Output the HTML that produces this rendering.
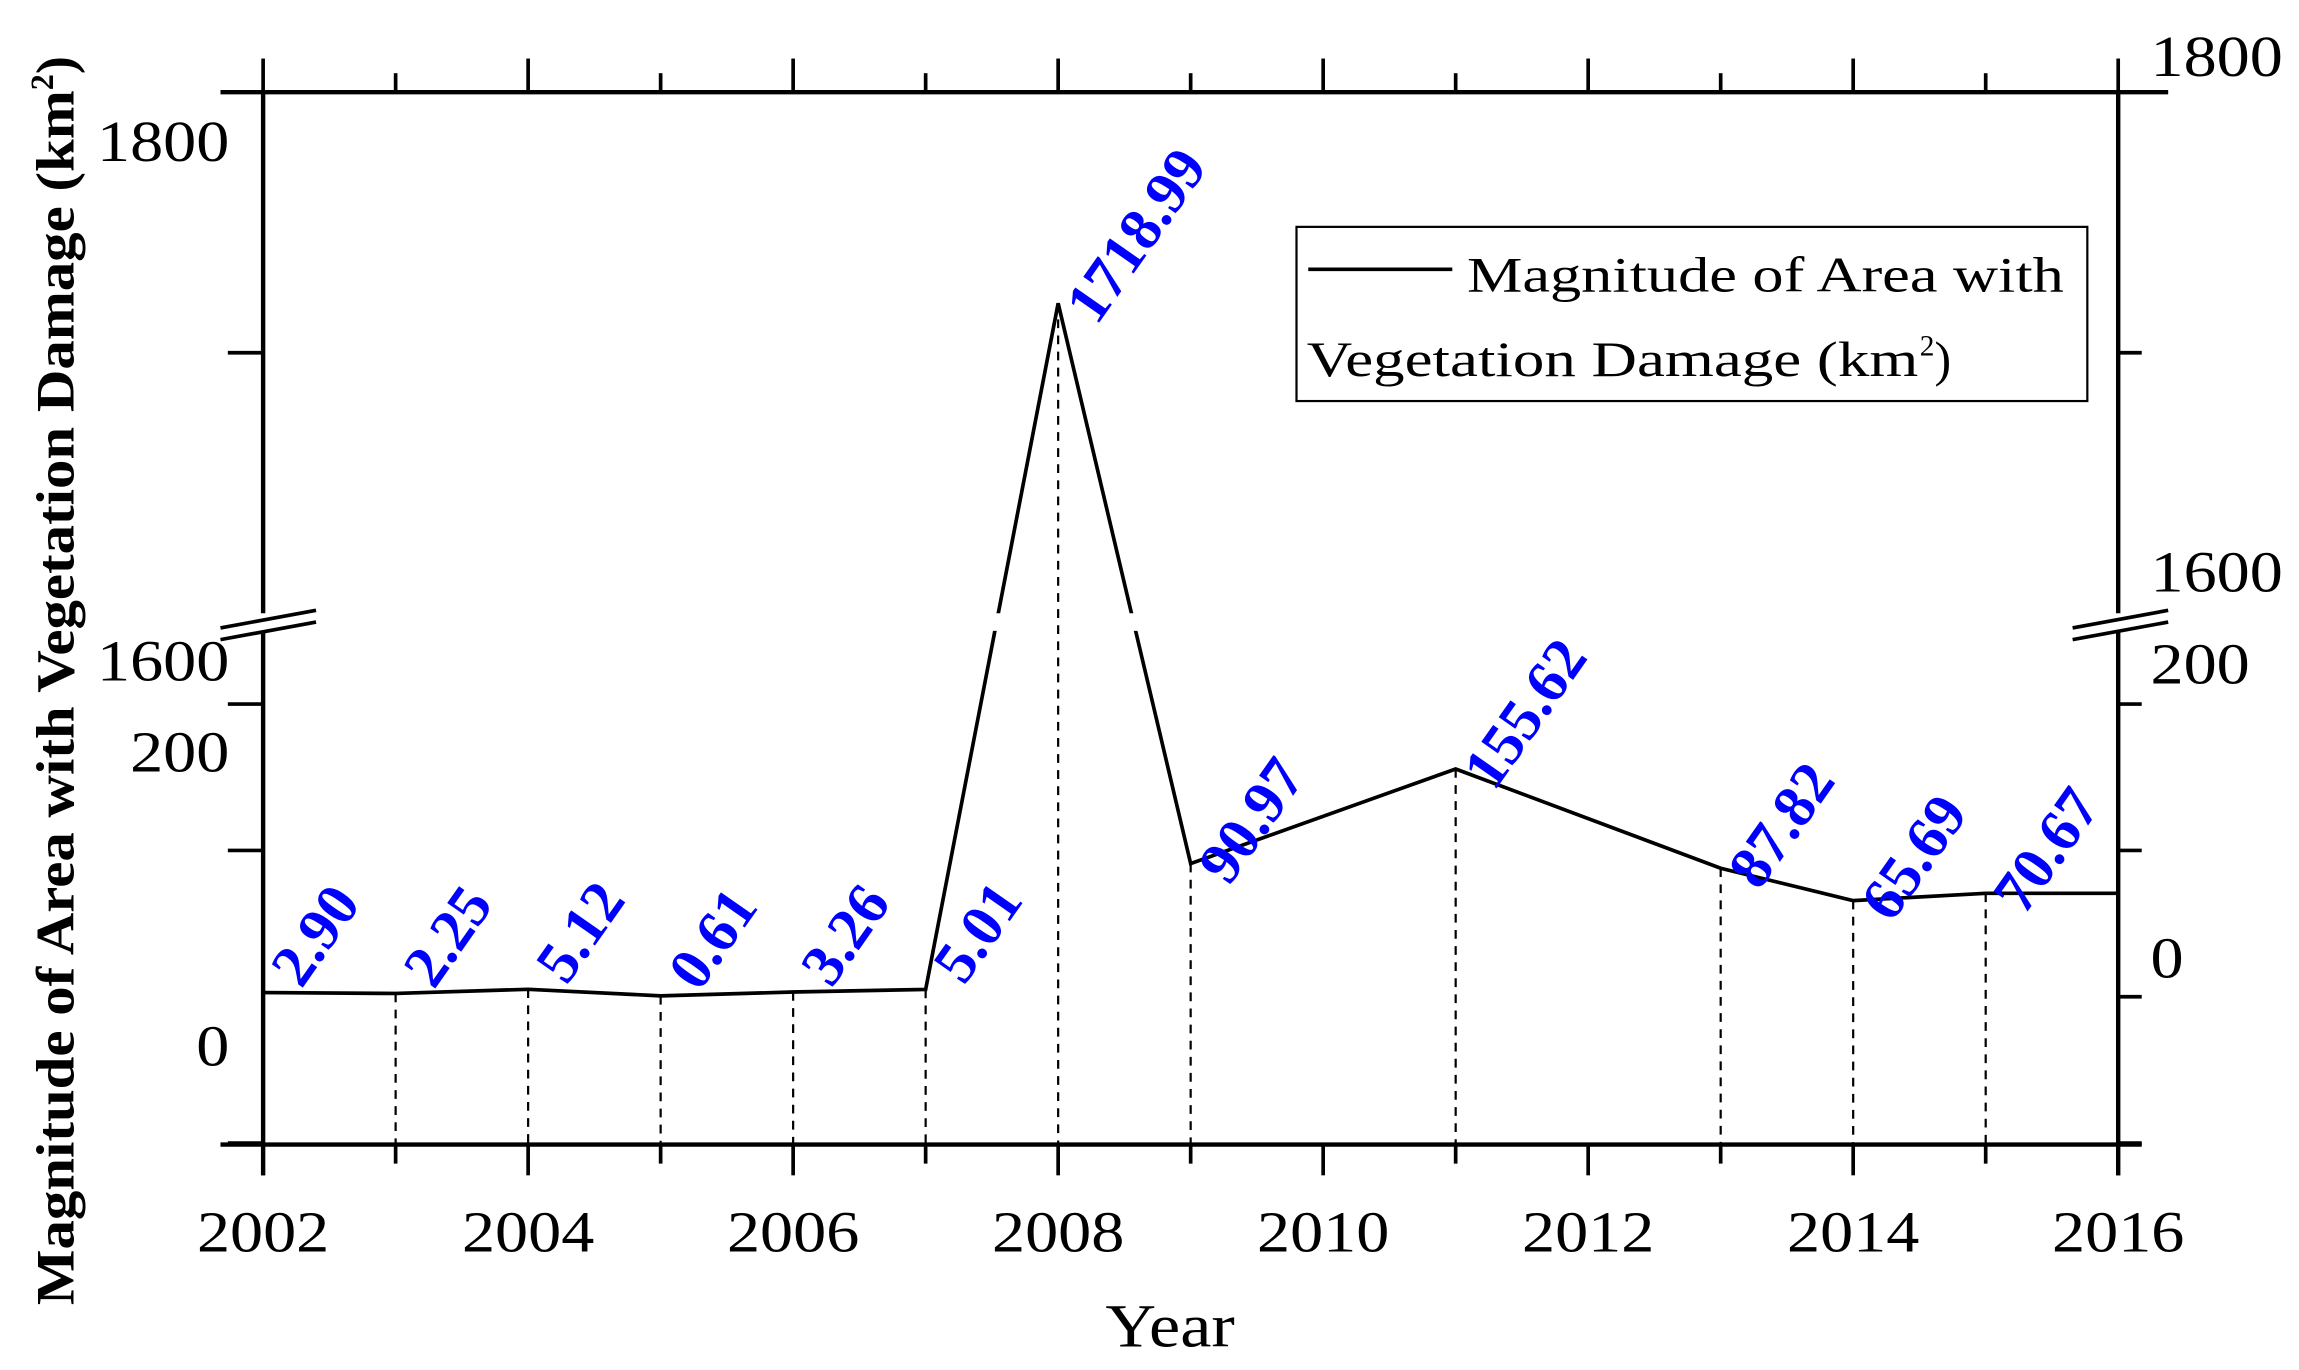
<!DOCTYPE html>
<html><head><meta charset="utf-8"><style>
html,body{margin:0;padding:0;background:#fff;}
svg{display:block;}
text{font-family:"Liberation Serif",serif;}
</style></head><body>
<svg id="chart" width="2299" height="1370" viewBox="0 0 1564 936" preserveAspectRatio="none" xmlns="http://www.w3.org/2000/svg">
<rect x="0" y="0" width="1564" height="936" fill="#fff"/>
<g id="series"></g>
<g id="axes"></g>
<g id="legend">
  <rect x="882" y="155" width="538" height="119" fill="#fff" stroke="#000" stroke-width="1.5"/>
  <line x1="890" y1="184" x2="988" y2="184" stroke="#000" stroke-width="2.5"/>
  <text x="998" y="199" font-size="34" textLength="406" lengthAdjust="spacingAndGlyphs">Magnitude of Area with</text>
  <text x="889" y="257" font-size="34" textLength="416" lengthAdjust="spacingAndGlyphs">Vegetation Damage (km</text>
  <text x="1306" y="243" font-size="20">2</text>
  <text x="1316" y="257" font-size="34">)</text>
</g>
<text x="0" y="0" transform="translate(50,465) rotate(-90)" text-anchor="middle" font-size="37" font-weight="bold"><tspan textLength="830" lengthAdjust="spacingAndGlyphs">Magnitude of Area with Vegetation Damage (km</tspan><tspan dy="-14" font-size="22">2</tspan><tspan dy="14">)</tspan></text>
<text x="796" y="920" text-anchor="middle" font-size="42" textLength="88" lengthAdjust="spacingAndGlyphs">Year</text>
</svg>
<script>
const years = [2002,2003,2004,2005,2006,2007,2008,2009,2011,2013,2014,2015,2016];
const values = [2.90,2.25,5.12,0.61,3.26,5.01,1718.99,90.97,155.62,87.82,65.69,70.67,70.67];
const valueLabels = ["2.90","2.25","5.12","0.61","3.26","5.01","1718.99","90.97","155.62","87.82","65.69","70.67",""];
const xTickLabels = ["2002","2004","2006","2008","2010","2012","2014","2016"];
const leftTickLabels = ["1800","1600","200","0"];

const NS="http://www.w3.org/2000/svg";
const L=179,R=1441,T=63,B=782;
function xs(y){return L+(y-2002)*(R-L)/14;}
function ys(v){ if(v<=250) return 681-v*1.0; return 63+(1800-v)*1.78; }
function mk(parent,tag,attrs){const e=document.createElementNS(NS,tag);for(const k in attrs)e.setAttribute(k,attrs[k]);parent.appendChild(e);return e;}
const ax=document.getElementById('axes'), se=document.getElementById('series');

let e;
const pts=years.map((y,i)=>xs(y)+','+ys(values[i])).join(' ');
e=mk(se,'polyline',{points:pts,fill:'none',stroke:'#000','stroke-width':2.5});


e=mk(se,'rect',{x:L+3,y:419,width:R-L-6,height:12,fill:'#fff'});


years.forEach((y,i)=>{
  if(y===2002||y===2016) return;
  e=mk(se,'line',{x1:xs(y),y1:ys(values[i]),x2:xs(y),y2:B,stroke:'#000','stroke-width':1.5,'stroke-dasharray':'6,5'});
  
  
});
years.forEach((y,i)=>{
  if(!valueLabels[i]) return;
  const x=xs(y)+26, yy=ys(values[i])+(values[i]>50?16:-2);
  e=mk(se,'text',{x:x,y:yy,'font-size':41,'font-weight':'bold',fill:'#0000ff',transform:'rotate(-55 '+x+' '+yy+')'});
  e.textContent=valueLabels[i];
  
  
});

e=mk(ax,'line',{x1:150,y1:T,x2:1475,y2:T,stroke:'#000','stroke-width':3});


e=mk(ax,'line',{x1:150,y1:B,x2:1457,y2:B,stroke:'#000','stroke-width':3});


[[L,'left'],[R,'right']].forEach(([x,n])=>{
  e=mk(ax,'line',{x1:x,y1:T,x2:x,y2:419,stroke:'#000','stroke-width':3});
  
  
  e=mk(ax,'line',{x1:x,y1:431,x2:x,y2:B+21,stroke:'#000','stroke-width':3});
  
  
});
[[150,215],[1410,1475]].forEach(([a,b])=>{
  e=mk(ax,'line',{x1:a,y1:429,x2:b,y2:417,stroke:'#000','stroke-width':2.5});
  
  
  e=mk(ax,'line',{x1:a,y1:437,x2:b,y2:425,stroke:'#000','stroke-width':2.5});
  
  
});
for(let y=2002;y<=2016;y++){
  const major=(y%2===0);
  e=mk(ax,'line',{x1:xs(y),y1:B,x2:xs(y),y2:B+(major?21:13),stroke:'#000','stroke-width':2.5});
  
  
  e=mk(ax,'line',{x1:xs(y),y1:T,x2:xs(y),y2:T-(major?23:13),stroke:'#000','stroke-width':2.5});
  
  
}
xTickLabels.forEach(s=>{
  e=mk(ax,'text',{x:xs(+s)-45,y:855,'font-size':40,textLength:90,lengthAdjust:'spacingAndGlyphs'});
  e.textContent=s;
  
  
});
[1700,200,100,-100].forEach(v=>{
  e=mk(ax,'line',{x1:L-24,y1:ys(v),x2:L,y2:ys(v),stroke:'#000','stroke-width':2.5});
  
  
});
[1700,200,100,0,-100].forEach(v=>{
  e=mk(ax,'line',{x1:R,y1:ys(v),x2:R+16,y2:ys(v),stroke:'#000','stroke-width':2.5});
  
  
});
const lb=[110,465,527,728], rb=[52,404,467,668];
leftTickLabels.forEach((s,i)=>{
  const w=s.length*22.5;
  e=mk(ax,'text',{x:156-w,y:lb[i],'font-size':40,textLength:w,lengthAdjust:'spacingAndGlyphs'});
  e.textContent=s;
  
  
  e=mk(ax,'text',{x:1463,y:rb[i],'font-size':40,textLength:w,lengthAdjust:'spacingAndGlyphs'});
  e.textContent=s;
  
  
});
</script>
</body></html>
